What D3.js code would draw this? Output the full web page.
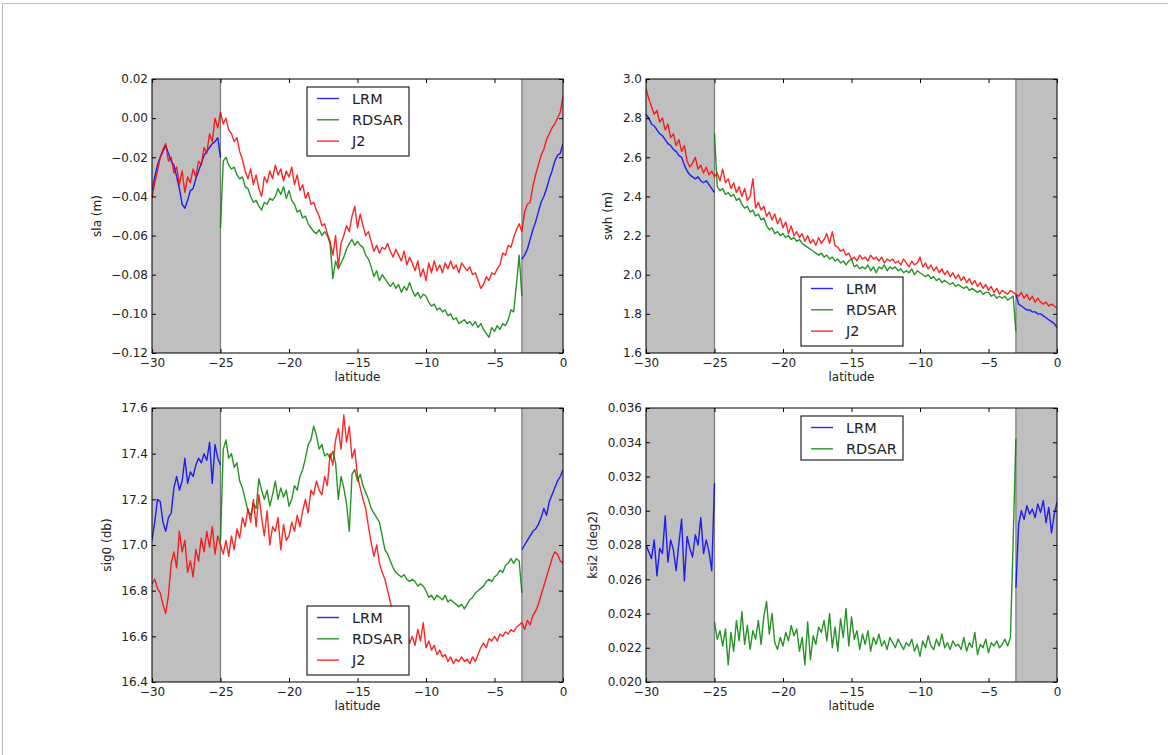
<!DOCTYPE html>
<html><head><meta charset="utf-8">
<script src="https://cdn.jsdelivr.net/npm/d3@7"></script>
<style>
body{margin:0;background:#fff;}
svg{display:block;font-family:"DejaVu Sans",sans-serif;}
</style></head><body>
<svg id="c" width="1168" height="755"></svg>
<script>
// ---------- data ----------
const latTicks = [-30, -25, -20, -15, -10, -5, 0];
const slaTicks = [0.02, 0.00, -0.02, -0.04, -0.06, -0.08, -0.10, -0.12];
const swhTicks = [3.0, 2.8, 2.6, 2.4, 2.2, 2.0, 1.8, 1.6];
const sig0Ticks = [17.6, 17.4, 17.2, 17.0, 16.8, 16.6, 16.4];
const ksi2Ticks = [0.036, 0.034, 0.032, 0.030, 0.028, 0.026, 0.024, 0.022, 0.020];
const shadeRanges = [[-30, -25], [-3, 0]];
const latStep = 0.2; // sampling step of every series (degrees latitude)
const seriesNames = ["LRM", "RDSAR", "J2"];

// sla (m)
const slaLRM1 = [-0.037,-0.030,-0.024,-0.020,-0.017,-0.014,-0.018,-0.022,-0.024,-0.030,-0.036,-0.044,-0.046,-0.042,-0.037,-0.036,-0.031,-0.027,-0.023,-0.019,-0.017,-0.015,-0.013,-0.012,-0.010,-0.020];
const slaLRM2 = [-0.072,-0.070,-0.067,-0.062,-0.057,-0.053,-0.048,-0.043,-0.040,-0.036,-0.031,-0.027,-0.022,-0.019,-0.018,-0.013];
const slaRDSAR = [
-0.056,-0.022,-0.020,-0.024,-0.026, -0.025,-0.029,-0.031,-0.030,-0.035,
-0.036,-0.040,-0.043,-0.042,-0.045, -0.047,-0.043,-0.044,-0.041,-0.042,
-0.040,-0.036,-0.039,-0.035,-0.041, -0.037,-0.042,-0.044,-0.048,-0.047,
-0.051,-0.050,-0.054,-0.056,-0.058, -0.059,-0.057,-0.060,-0.058,-0.060,
-0.064,-0.082,-0.073,-0.077,-0.074, -0.071,-0.067,-0.064,-0.062,-0.065,
-0.063,-0.065,-0.066,-0.070,-0.072, -0.076,-0.081,-0.078,-0.083,-0.080,
-0.082,-0.084,-0.086,-0.084,-0.087, -0.085,-0.089,-0.086,-0.088,-0.084,
-0.088,-0.091,-0.089,-0.092,-0.090, -0.091,-0.094,-0.096,-0.095,-0.098,
-0.097,-0.099,-0.098,-0.101,-0.100, -0.103,-0.102,-0.105,-0.104,-0.103,
-0.105,-0.104,-0.106,-0.104,-0.107, -0.105,-0.108,-0.110,-0.112,-0.107,
-0.109,-0.106,-0.108,-0.105,-0.106, -0.103,-0.098,-0.099,-0.085,-0.070,
-0.091];
const slaJ2 = [
-0.041,-0.033,-0.027,-0.020,-0.016, -0.013,-0.022,-0.020,-0.028,-0.025,
-0.034,-0.027,-0.038,-0.030,-0.033, -0.026,-0.030,-0.022,-0.024,-0.015,
-0.018,-0.008,-0.012,0.000,-0.005, 0.003,-0.003,0.000,-0.006,-0.008,
-0.012,-0.010,-0.017,-0.021,-0.027, -0.031,-0.026,-0.034,-0.029,-0.036,
-0.040,-0.030,-0.033,-0.027,-0.031, -0.024,-0.029,-0.026,-0.032,-0.027,
-0.030,-0.025,-0.034,-0.029,-0.037, -0.034,-0.041,-0.038,-0.044,-0.043,
-0.047,-0.050,-0.055,-0.054,-0.059, -0.063,-0.070,-0.060,-0.076,-0.064,
-0.060,-0.055,-0.058,-0.050,-0.045, -0.056,-0.049,-0.055,-0.060,-0.058,
-0.063,-0.068,-0.065,-0.069,-0.066, -0.067,-0.064,-0.068,-0.071,-0.067,
-0.070,-0.073,-0.068,-0.075,-0.071, -0.074,-0.078,-0.073,-0.081,-0.077,
-0.083,-0.074,-0.079,-0.073,-0.078, -0.075,-0.079,-0.074,-0.077,-0.073,
-0.077,-0.075,-0.079,-0.074,-0.076, -0.078,-0.076,-0.080,-0.079,-0.083,
-0.087,-0.085,-0.081,-0.083,-0.079, -0.080,-0.077,-0.075,-0.069,-0.070,
-0.065,-0.066,-0.061,-0.057,-0.054, -0.058,-0.048,-0.044,-0.043,-0.035,
-0.029,-0.024,-0.019,-0.016,-0.011, -0.008,-0.005,-0.003,0.000,0.003,
0.011];

// swh (m)
const swhLRM1 = [2.82,2.80,2.77,2.76,2.74,2.72,2.71,2.69,2.67,2.66,2.64,2.63,2.61,2.60,2.56,2.53,2.51,2.50,2.49,2.50,2.48,2.47,2.48,2.46,2.44,2.42];
const swhLRM2 = [1.90,1.85,1.84,1.83,1.82,1.82,1.81,1.81,1.80,1.80,1.79,1.78,1.77,1.76,1.75,1.73];
const swhRDSAR = [
2.72,2.45,2.43,2.44,2.41, 2.42,2.40,2.41,2.38,2.39,
2.36,2.34,2.35,2.32,2.33, 2.30,2.31,2.28,2.29,2.25,
2.23,2.24,2.21,2.22,2.20, 2.21,2.19,2.20,2.18,2.19,
2.17,2.18,2.16,2.15,2.14, 2.13,2.12,2.11,2.10,2.11,
2.09,2.10,2.08,2.09,2.07, 2.08,2.06,2.07,2.05,2.07,
2.08,2.04,2.05,2.03,2.04, 2.03,2.05,2.02,2.04,2.01,
2.04,2.03,2.05,2.02,2.04, 2.03,2.04,2.02,2.03,2.01,
2.02,2.01,2.03,2.00,2.02, 2.01,2.00,1.99,2.00,1.98,
1.99,1.97,1.98,1.96,1.97, 1.96,1.95,1.96,1.94,1.95,
1.94,1.93,1.94,1.92,1.93, 1.92,1.91,1.92,1.90,1.91,
1.91,1.89,1.90,1.88,1.89, 1.88,1.89,1.87,1.88,1.89,
1.71];
const swhJ2 = [
2.95,2.90,2.86,2.82,2.84, 2.78,2.80,2.74,2.77,2.70,
2.72,2.66,2.69,2.63,2.66, 2.58,2.55,2.57,2.60,2.54,
2.56,2.52,2.55,2.51,2.53, 2.50,2.52,2.48,2.54,2.47,
2.49,2.44,2.47,2.42,2.45, 2.40,2.44,2.38,2.40,2.49,
2.34,2.37,2.33,2.35,2.30, 2.32,2.28,2.31,2.26,2.29,
2.24,2.27,2.21,2.25,2.20, 2.22,2.19,2.21,2.17,2.20,
2.16,2.18,2.15,2.19,2.16, 2.18,2.21,2.16,2.22,2.15,
2.14,2.12,2.13,2.10,2.11, 2.08,2.09,2.07,2.10,2.08,
2.09,2.07,2.10,2.08,2.09, 2.07,2.09,2.06,2.08,2.07,
2.08,2.06,2.07,2.05,2.08, 2.06,2.04,2.07,2.05,2.06,
2.09,2.04,2.06,2.03,2.05, 2.02,2.04,2.01,2.03,2.00,
2.02,1.99,2.01,1.98,2.00, 1.97,1.99,1.96,1.98,1.95,
1.97,1.94,1.96,1.93,1.95, 1.92,1.94,1.91,1.93,1.90,
1.92,1.91,1.90,1.92,1.91, 1.90,1.89,1.91,1.88,1.90,
1.87,1.89,1.86,1.88,1.86, 1.85,1.86,1.84,1.85,1.84,
1.83];

// sig0 (db)
const sig0LRM1 = [17.02,17.10,17.20,17.19,17.10,17.06,17.12,17.14,17.25,17.30,17.24,17.28,17.38,17.27,17.32,17.30,17.35,17.38,17.36,17.40,17.37,17.45,17.27,17.44,17.38,17.35];
const sig0LRM2 = [16.98,17.00,17.02,17.04,17.06,17.07,17.09,17.12,17.16,17.13,17.19,17.22,17.25,17.28,17.30,17.33];
const sig0RDSAR = [
17.02,17.42,17.46,17.38,17.40, 17.34,17.36,17.28,17.25,17.20,
17.15,17.13,17.18,17.16,17.29, 17.24,17.20,17.24,17.17,17.22,
17.28,17.20,17.25,17.21,17.24, 17.17,17.20,17.26,17.24,17.30,
17.33,17.38,17.44,17.46,17.52, 17.48,17.42,17.44,17.39,17.40,
17.38,17.41,17.36,17.20,17.30, 17.25,17.18,17.06,17.31,17.33,
17.28,17.31,17.26,17.23,17.20, 17.16,17.14,17.12,17.10,17.04,
16.98,16.96,16.93,16.90,16.88, 16.87,16.86,16.87,16.85,16.84,
16.85,16.84,16.82,16.83,16.82, 16.80,16.77,16.78,16.76,16.78,
16.77,16.76,16.78,16.75,16.76, 16.75,16.74,16.73,16.74,16.72,
16.74,16.76,16.77,16.79,16.80, 16.81,16.82,16.84,16.85,16.84,
16.86,16.87,16.89,16.88,16.91, 16.92,16.94,16.92,16.94,16.93,
16.79];
const sig0J2 = [
16.83,16.85,16.81,16.79,16.74, 16.70,16.78,16.92,16.97,16.90,
17.06,16.97,17.02,16.88,16.93, 16.86,16.98,16.93,17.03,16.97,
17.06,16.99,17.08,16.96,17.04, 17.00,16.96,17.02,16.95,17.04,
16.98,17.07,17.03,17.12,17.08, 17.16,17.10,17.20,17.08,17.22,
17.12,17.04,17.15,17.00,17.08, 17.06,17.12,16.98,17.09,17.02,
17.04,17.10,17.06,17.13,17.08, 17.15,17.20,17.14,17.24,17.22,
17.28,17.24,17.22,17.30,17.26, 17.40,17.35,17.46,17.51,17.42,
17.57,17.45,17.52,17.38,17.42, 17.30,17.25,17.20,17.16,17.08,
17.01,16.95,17.00,16.92,16.88, 16.85,16.80,16.75,16.70,16.66,
16.63,16.66,16.59,16.62,16.57, 16.60,16.56,16.63,16.58,16.66,
16.55,16.58,16.54,16.56,16.52, 16.54,16.51,16.52,16.49,16.51,
16.48,16.50,16.49,16.51,16.49, 16.50,16.48,16.51,16.49,16.52,
16.55,16.57,16.55,16.59,16.58, 16.60,16.58,16.61,16.60,16.62,
16.61,16.63,16.62,16.64,16.65, 16.66,16.63,16.67,16.65,16.69,
16.71,16.74,16.78,16.82,16.86, 16.90,16.94,16.97,16.96,16.93,
16.92];

// ksi2 (deg2)
const ksi2LRM1 = [0.0280,0.0276,0.0272,0.0283,0.0262,0.0278,0.0275,0.0297,0.0270,0.0283,0.0277,0.0265,0.0281,0.0295,0.0259,0.0285,0.0278,0.0273,0.0286,0.0280,0.0296,0.0275,0.0283,0.0276,0.0265,0.0316];
const ksi2LRM2 = [0.0255,0.0292,0.0300,0.0295,0.0303,0.0298,0.0301,0.0296,0.0304,0.0299,0.0306,0.0293,0.0302,0.0287,0.0298,0.0305];
const ksi2RDSAR = [
0.0235,0.0225,0.0230,0.0221,0.0231, 0.0210,0.0229,0.0218,0.0236,0.0224,
0.0241,0.0222,0.0233,0.0219,0.0230, 0.0225,0.0236,0.0222,0.0238,0.0247,
0.0228,0.0240,0.0223,0.0219,0.0226, 0.0221,0.0229,0.0224,0.0233,0.0227,
0.0231,0.0218,0.0226,0.0210,0.0235, 0.0213,0.0227,0.0222,0.0232,0.0229,
0.0236,0.0224,0.0240,0.0220,0.0232, 0.0218,0.0237,0.0226,0.0243,0.0221,
0.0238,0.0225,0.0230,0.0219,0.0228, 0.0222,0.0230,0.0218,0.0226,0.0222,
0.0228,0.0221,0.0224,0.0219,0.0226, 0.0223,0.0220,0.0225,0.0222,0.0219,
0.0223,0.0221,0.0225,0.0218,0.0222, 0.0215,0.0224,0.0220,0.0227,0.0221,
0.0219,0.0225,0.0221,0.0228,0.0220, 0.0223,0.0219,0.0224,0.0221,0.0222,
0.0219,0.0226,0.0218,0.0223,0.0220, 0.0229,0.0216,0.0222,0.0220,0.0225,
0.0217,0.0223,0.0221,0.0224,0.0220, 0.0222,0.0225,0.0221,0.0226,0.0282,
0.0342];

// ---------- drawing ----------
const svg = d3.select("#c");
const W = 411, H = 274;
const colors = {LRM: "#0000ff", RDSAR: "#008000", J2: "#ff0000"};

svg.append("path").attr("d", "M2.5,755V3.5H1168").attr("fill", "none").attr("stroke", "#bdbdbd");

const panels = [
  {left: 152, top: 79, dom: [-0.12, 0.02], ticks: slaTicks, fmt: ".2f", label: "sla (m)", legend: "top",
   series: [["LRM", -30, slaLRM1], ["LRM", -3, slaLRM2], ["RDSAR", -25, slaRDSAR], ["J2", -30, slaJ2]], names: seriesNames},
  {left: 646, top: 79, dom: [1.6, 3.0], ticks: swhTicks, fmt: ".1f", label: "swh (m)", legend: "bottom",
   series: [["LRM", -30, swhLRM1], ["LRM", -3, swhLRM2], ["RDSAR", -25, swhRDSAR], ["J2", -30, swhJ2]], names: seriesNames},
  {left: 152, top: 408, dom: [16.4, 17.6], ticks: sig0Ticks, fmt: ".1f", label: "sig0 (db)", legend: "bottom",
   series: [["LRM", -30, sig0LRM1], ["LRM", -3, sig0LRM2], ["RDSAR", -25, sig0RDSAR], ["J2", -30, sig0J2]], names: seriesNames},
  {left: 646, top: 408, dom: [0.020, 0.036], ticks: ksi2Ticks, fmt: ".3f", label: "ksi2 (deg2)", legend: "top",
   series: [["LRM", -30, ksi2LRM1], ["LRM", -3, ksi2LRM2], ["RDSAR", -25, ksi2RDSAR]], names: seriesNames.slice(0, 2)}
];

panels.forEach((p, pi) => {
  const g = svg.append("g");
  const x = d3.scaleLinear().domain([-30, 0]).range([p.left, p.left + W]);
  const y = d3.scaleLinear().domain(p.dom).range([p.top + H, p.top]);

  g.append("rect").attr("x", p.left).attr("y", p.top).attr("width", W).attr("height", H).attr("fill", "#fff");
  shadeRanges.forEach(([a, b]) => {
    g.append("rect").attr("x", x(a)).attr("y", p.top).attr("width", x(b) - x(a)).attr("height", H)
      .attr("fill", "#bfbfbf");
  });
  [-25, -3].forEach(v => g.append("line").attr("x1", x(v)).attr("x2", x(v)).attr("y1", p.top).attr("y2", p.top + H)
      .attr("stroke", "#7a7a7a").attr("stroke-width", 1.2));

  const cid = "clip" + pi;
  svg.append("clipPath").attr("id", cid).append("rect").attr("x", p.left).attr("y", p.top).attr("width", W).attr("height", H);
  const lg = g.append("g").attr("clip-path", `url(#${cid})`);
  p.series.forEach(([name, start, vals]) => {
    const line = d3.line().x((d, i) => x(start + i * latStep)).y(d => y(d));
    lg.append("path").attr("d", line(vals)).attr("fill", "none").attr("stroke", colors[name])
      .attr("stroke-width", 1.4).attr("stroke-linejoin", "round").attr("stroke-opacity", 0.85);
  });

  // axes
  const fmtY = d3.format(p.fmt), fmtX = d3.format("d");
  const ax = g.append("g").attr("transform", `translate(0,${p.top + H})`)
    .call(d3.axisBottom(x).tickValues(latTicks).tickFormat(fmtX).tickSizeInner(-4).tickSizeOuter(0).tickPadding(5.5));
  const axT = g.append("g").attr("transform", `translate(0,${p.top})`)
    .call(d3.axisTop(x).tickValues(latTicks).tickFormat("").tickSizeInner(-4).tickSizeOuter(0));
  const ay = g.append("g").attr("transform", `translate(${p.left},0)`)
    .call(d3.axisLeft(y).tickValues(p.ticks).tickFormat(fmtY).tickSizeInner(-4).tickSizeOuter(0).tickPadding(4));
  const ayR = g.append("g").attr("transform", `translate(${p.left + W},0)`)
    .call(d3.axisRight(y).tickValues(p.ticks).tickFormat("").tickSizeInner(-4).tickSizeOuter(0));
  [ax, axT, ay, ayR].forEach(a => {
    a.select(".domain").remove();
    a.selectAll("line").attr("stroke", "#000");
    a.selectAll("text").attr("font-size", 12).attr("fill", "#222").attr("font-family", "DejaVu Sans, sans-serif");
  });

  g.append("rect").attr("x", p.left).attr("y", p.top).attr("width", W).attr("height", H)
    .attr("fill", "none").attr("stroke", "#111").attr("stroke-width", 1.1);

  // axis labels
  g.append("text").attr("x", p.left + W / 2).attr("y", p.top + H + 27.5).attr("text-anchor", "middle")
    .attr("font-size", 12).attr("fill", "#222").text("latitude");
  let maxW = 0;
  ay.selectAll("text").each(function () { maxW = Math.max(maxW, this.getComputedTextLength()); });
  const lx = p.left - 4 - maxW - 10.5;
  g.append("text").attr("transform", `translate(${lx},${p.top + H / 2}) rotate(-90)`)
    .attr("text-anchor", "middle").attr("font-size", 12).attr("fill", "#222").text(p.label);

  // legend
  const n = p.names.length;
  const lw = 102, lh = n === 3 ? 69 : 44;
  const lxL = p.left + W / 2 - lw / 2 + 0.5;
  const lyT = p.legend === "top" ? p.top + 8 : p.top + H - 7 - lh;
  const leg = g.append("g");
  leg.append("rect").attr("x", lxL).attr("y", lyT).attr("width", lw).attr("height", lh)
    .attr("fill", "#fff").attr("stroke", "#111").attr("stroke-width", 1.1);
  p.names.forEach((nm, i) => {
    const cy = lyT + 11.5 + i * 21.3;
    leg.append("line").attr("x1", lxL + 10).attr("x2", lxL + 32).attr("y1", cy).attr("y2", cy)
      .attr("stroke", colors[nm]).attr("stroke-width", 1.4).attr("stroke-opacity", 0.85);
    leg.append("text").attr("x", lxL + 45).attr("y", cy + 5.3).attr("font-size", 14.5).attr("fill", "#222").text(nm);
  });
});
</script>
</body></html>
